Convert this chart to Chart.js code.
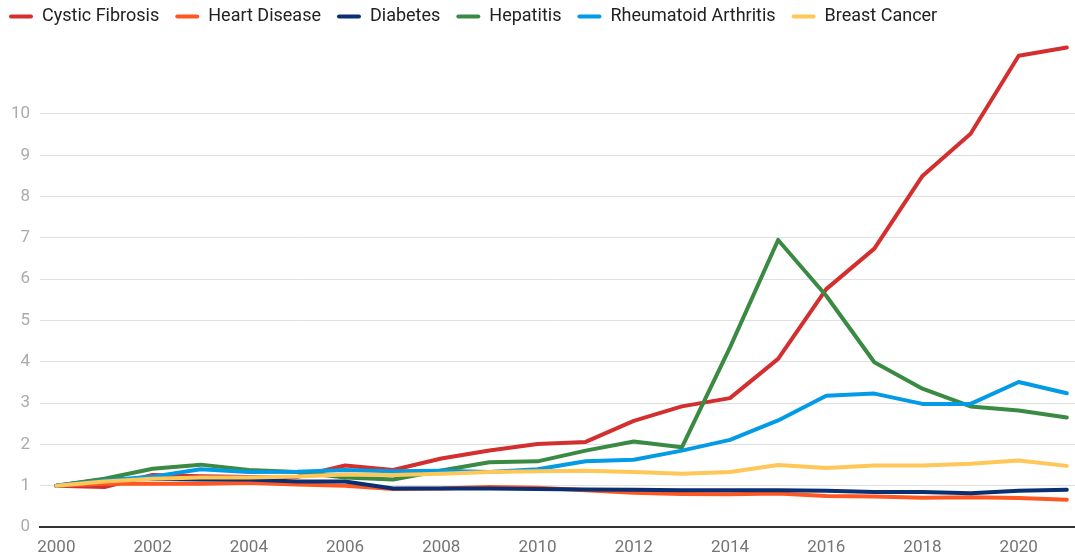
<!DOCTYPE html>
<html>
<head>
<meta charset="utf-8">
<script src="https://cdn.jsdelivr.net/npm/chart.js@4"></script>
<style>
  html, body { margin: 0; padding: 0; background: #ffffff; }
  #wrap { width: 1075px; height: 558px; position: relative; }
</style>
</head>
<body>
<div id="wrap"><canvas id="c"></canvas></div>
<script>
const years = [2000,2001,2002,2003,2004,2005,2006,2007,2008,2009,2010,2011,2012,2013,2014,2015,2016,2017,2018,2019,2020,2021];
const xTickValues = [2000,2002,2004,2006,2008,2010,2012,2014,2016,2018,2020];
const yTickValues = [0,1,2,3,4,5,6,7,8,9,10];
const seriesNames = ["Cystic Fibrosis","Heart Disease","Diabetes","Hepatitis","Rheumatoid Arthritis","Breast Cancer"];
const cysticFibrosis = [1.0,0.97,1.26,1.23,1.21,1.21,1.49,1.38,1.66,1.85,2.01,2.06,2.57,2.92,3.12,4.07,5.76,6.74,8.5,9.52,11.41,11.61];
const heartDisease = [1.0,1.05,1.05,1.05,1.07,1.03,1.0,0.92,0.93,0.97,0.95,0.89,0.83,0.8,0.79,0.81,0.75,0.74,0.71,0.72,0.7,0.66];
const diabetes = [1.0,1.15,1.17,1.15,1.15,1.1,1.1,0.93,0.93,0.93,0.92,0.91,0.9,0.89,0.89,0.89,0.88,0.85,0.85,0.82,0.88,0.9];
const hepatitis = [1.0,1.17,1.41,1.51,1.38,1.33,1.2,1.15,1.37,1.57,1.59,1.85,2.07,1.93,4.35,6.95,5.6,3.99,3.35,2.92,2.82,2.65];
const rheumatoidArthritis = [1.0,1.12,1.22,1.4,1.33,1.34,1.38,1.35,1.36,1.33,1.4,1.59,1.63,1.85,2.11,2.58,3.18,3.23,2.98,2.98,3.51,3.24];
const breastCancer = [1.0,1.1,1.17,1.2,1.2,1.22,1.27,1.26,1.29,1.33,1.35,1.36,1.33,1.29,1.33,1.5,1.43,1.49,1.49,1.53,1.61,1.48];
const seriesValues = [cysticFibrosis, heartDisease, diabetes, hepatitis, rheumatoidArthritis, breastCancer];
const seriesColors = ["#d32f2f","#ff5722","#0b2f73","#3b8a43","#039be5","#ffc658"];

const datasets = seriesNames.map((name, i) => ({
  label: name,
  data: years.map((yr, k) => ({x: yr, y: seriesValues[i][k]})),
  borderColor: seriesColors[i],
  backgroundColor: seriesColors[i],
  borderWidth: 4,
  pointRadius: 0,
  pointHoverRadius: 0,
  tension: 0,
  fill: false,
  borderCapStyle: 'round',
  borderJoinStyle: 'round',
  order: -i
}));

const FONT = "Roboto";

new Chart(document.getElementById('c'), {
  type: 'line',
  data: { datasets },
  options: {
    responsive: true,
    maintainAspectRatio: false,
    animation: false,
    layout: { padding: { top: -8.5, left: -7, right: 0, bottom: 0 } },
    plugins: {
      tooltip: { enabled: false },
      legend: {
        display: true,
        position: 'top',
        align: 'start',
        labels: {
          font: { family: FONT, size: 18 },
          color: '#222222',
          boxWidth: 24,
          boxHeight: 4,
          padding: 16,
          useBorderRadius: true,
          borderRadius: 2,
          sort: (a, b) => a.datasetIndex - b.datasetIndex,
          generateLabels: (chart) => Chart.defaults.plugins.legend.labels.generateLabels(chart)
            .map(l => Object.assign({}, l, { fillStyle: l.strokeStyle, lineWidth: 0 }))
        }
      }
    },
    scales: {
      x: {
        type: 'linear',
        min: 1999.66,
        max: 2021.17,
        grid: { display: false, drawTicks: false },
        border: { display: true, color: '#333333', width: 2 },
        afterBuildTicks: (scale) => { scale.ticks = xTickValues.map(v => ({ value: v })); },
        afterFit: (scale) => { scale.height = 31; },
        ticks: {
          autoSkip: false,
          maxRotation: 0,
          padding: 11,
          color: '#757575',
          font: { family: FONT, size: 17 },
          callback: (v) => String(v)
        }
      },
      y: {
        type: 'linear',
        min: 0,
        max: 11.9,
        grid: { color: '#e0e0e0', lineWidth: 1, drawTicks: false },
        border: { display: false },
        afterBuildTicks: (scale) => { scale.ticks = yTickValues.map(v => ({ value: v })); },
        afterFit: (scale) => { scale.width = 47; },
        ticks: {
          padding: 10,
          color: '#ababab',
          font: { family: FONT, size: 17 },
          callback: (v) => String(v)
        }
      }
    }
  }
});
</script>
</body>
</html>
